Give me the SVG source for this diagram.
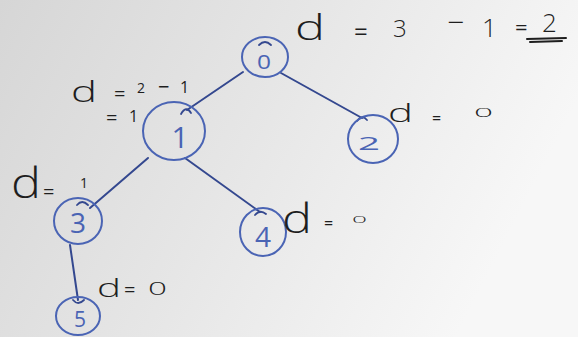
<svg xmlns="http://www.w3.org/2000/svg" width="578" height="337" viewBox="0 0 578 337">
  <defs>
    <linearGradient id="paper" x1="0" y1="0" x2="1" y2="0.3">
      <stop offset="0" stop-color="#d6d6d6"/>
      <stop offset="0.5" stop-color="#e6e6e6"/>
      <stop offset="0.85" stop-color="#f2f2f2"/>
      <stop offset="1" stop-color="#f7f7f7"/>
    </linearGradient>
  </defs>
  <style>
    .node { fill: none; stroke: #4a64b4; stroke-width: 2; }
    .edge { fill: none; stroke: #34488f; stroke-width: 2; stroke-linecap: round; }
    .tick { fill: none; stroke: #34488f; stroke-width: 1.8; stroke-linecap: round; }
    .nl { font-family: "Open Sans", "Liberation Sans", Arial, sans-serif; font-weight: 400; fill: #4a64b4; text-anchor: middle; }
    .ink { font-family: "Open Sans", "Liberation Sans", Arial, sans-serif; font-weight: 400; fill: #1e1e1e; }
    .dd { font-weight: 300; }
    .ul { fill: none; stroke: #1e1e1e; stroke-width: 2; stroke-linecap: round; }
  </style>
  <rect width="578" height="337" fill="url(#paper)"/>

  <g id="connectors">
    <path class="edge" d="M243,72 L187,110"/>
    <path class="edge" d="M281,73 L362,118"/>
    <path class="edge" d="M148,158 L90,208"/>
    <path class="edge" d="M185,158 L260,212"/>
    <path class="edge" d="M70,245 L78,300"/>
    <path class="tick" d="M181,114 Q186,105 191,113"/>
    <path class="tick" d="M357,121 Q362,114 367,120"/>
    <path class="tick" d="M77,205 Q82,199 88,205"/>
    <path class="tick" d="M255,215 Q260,209 266,214"/>
    <path class="tick" d="M73,300 Q78,306 84,300"/>
    <path class="tick" d="M259,45 Q265,39 271,45"/>
  </g>

  <g id="node0">
    <ellipse class="node" cx="265" cy="57" rx="23" ry="20"/>
    <text class="nl" x="264" y="69" font-size="20" textLength="14" lengthAdjust="spacingAndGlyphs">0</text>
  </g>
  <g id="node1">
    <ellipse class="node" cx="174" cy="131" rx="31" ry="29"/>
    <text class="nl" x="180" y="148" font-size="30" font-weight="300">1</text>
  </g>
  <g id="node2">
    <ellipse class="node" cx="373" cy="139" rx="25" ry="24"/>
    <text class="nl" x="369" y="150" font-size="18" textLength="22" lengthAdjust="spacingAndGlyphs">2</text>
  </g>
  <g id="node3">
    <ellipse class="node" cx="78" cy="221" rx="24" ry="23"/>
    <text class="nl" x="78" y="233" font-size="28" font-weight="300">3</text>
  </g>
  <g id="node4">
    <ellipse class="node" cx="263" cy="232" rx="23" ry="24"/>
    <text class="nl" x="263" y="247" font-size="28" font-weight="300">4</text>
  </g>
  <g id="node5">
    <ellipse class="node" cx="78" cy="316" rx="22" ry="19"/>
    <text class="nl" x="80" y="327" font-size="21">5</text>
  </g>

  <g id="labels">
    <text class="ink"><tspan class="dd" x="295" y="40" font-size="34" textLength="30" lengthAdjust="spacingAndGlyphs">d</tspan><tspan x="354" y="40" font-size="24">=</tspan><tspan x="393" y="37" font-size="24" font-weight="300">3</tspan><tspan x="447" y="33" font-size="30" font-weight="300">−</tspan><tspan x="482" y="37" font-size="26" font-weight="300">1</tspan><tspan x="515" y="35" font-size="22">=</tspan><tspan x="542" y="32" font-size="26" font-weight="300">2</tspan></text>
    <path class="ul" d="M527,39 L566,38 M530,42 L562,41"/>

    <text class="ink"><tspan class="dd" x="71" y="102" font-size="30" textLength="26" lengthAdjust="spacingAndGlyphs">d</tspan><tspan x="114" y="101" font-size="20">=</tspan><tspan x="137" y="93" font-size="14">2</tspan><tspan x="158" y="94" font-size="20">−</tspan><tspan x="180" y="93" font-size="16">1</tspan><tspan x="106" y="125" font-size="20">=</tspan><tspan x="129" y="122" font-size="16">1</tspan></text>

    <text class="ink"><tspan class="dd" x="388" y="122" font-size="26" textLength="25" lengthAdjust="spacingAndGlyphs">d</tspan><tspan x="432" y="124" font-size="16">=</tspan><tspan class="dd" x="474" y="117" font-size="13" textLength="19" lengthAdjust="spacingAndGlyphs">0</tspan></text>

    <text class="ink"><tspan class="dd" x="11" y="198" font-size="42" textLength="30" lengthAdjust="spacingAndGlyphs">d</tspan><tspan x="43" y="199" font-size="20">=</tspan><tspan x="80" y="188" font-size="14">1</tspan></text>

    <text class="ink"><tspan class="dd" x="282" y="233" font-size="40" textLength="30" lengthAdjust="spacingAndGlyphs">d</tspan><tspan x="324" y="229" font-size="16">=</tspan><tspan class="dd" x="352" y="223" font-size="9" textLength="15" lengthAdjust="spacingAndGlyphs">0</tspan></text>

    <text class="ink"><tspan class="dd" x="97" y="297" font-size="26" textLength="24" lengthAdjust="spacingAndGlyphs">d</tspan><tspan x="124" y="297" font-size="20">=</tspan><tspan class="dd" x="148" y="295" font-size="18" textLength="19" lengthAdjust="spacingAndGlyphs">0</tspan></text>
  </g>
</svg>
